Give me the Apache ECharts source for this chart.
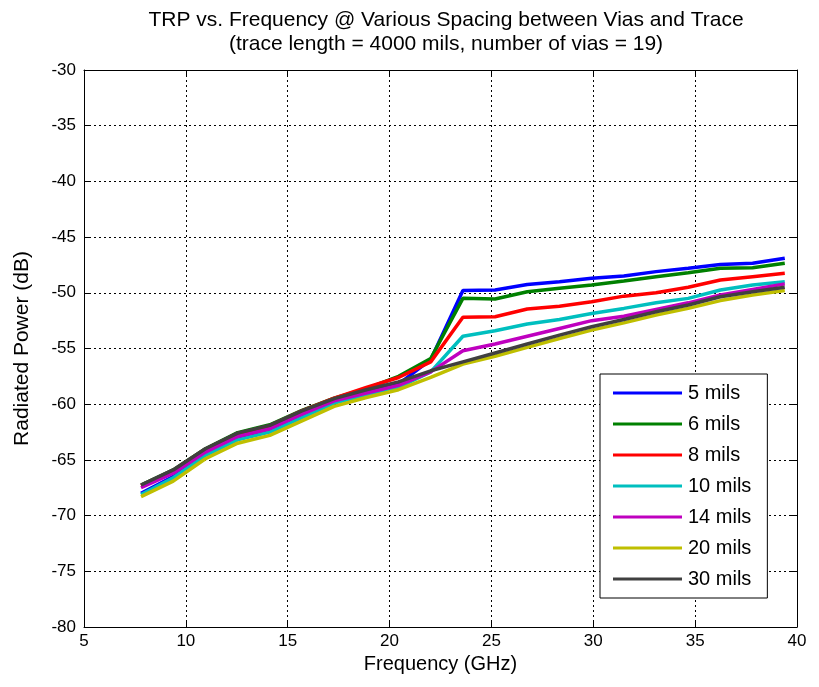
<!DOCTYPE html>
<html>
<head>
<meta charset="utf-8">
<script src="https://cdn.jsdelivr.net/npm/echarts@6/dist/echarts.min.js"></script>
<style>
  html, body { margin: 0; padding: 0; background: #fff; }
  #chart { width: 819px; height: 687px; }
</style>
</head>
<body>
<div id="chart"></div>
<script>
// 频率 (GHz)
var freqs = [7.8, 9.38, 10.96, 12.54, 14.12, 15.7, 17.28, 18.86, 20.44, 22.02, 23.6,
             25.18, 26.76, 28.34, 29.92, 31.5, 33.08, 34.66, 36.24, 37.82, 39.4];

var names = ['5 mils', '6 mils', '8 mils', '10 mils', '14 mils', '20 mils', '30 mils'];
var colors = ['#0000ff', '#008000', '#ff0000', '#00bfbf', '#bf00bf', '#bfbf00', '#404040'];

var mils5  = [-68.0, -66.5, -64.5, -63.1, -62.4, -61.1, -59.8, -59.0, -58.2, -56.0, -49.8,
              -49.75, -49.25, -49.0, -48.7, -48.5, -48.1, -47.8, -47.45, -47.35, -46.9];
var mils6  = [-67.25, -65.9, -64.0, -62.55, -61.85, -60.55, -59.45, -58.6, -57.5, -55.9, -50.5,
              -50.55, -49.9, -49.6, -49.3, -48.95, -48.55, -48.2, -47.8, -47.75, -47.35];
var mils8  = [-67.3, -65.95, -64.05, -62.65, -61.95, -60.6, -59.45, -58.5, -57.6, -56.2, -52.2,
              -52.15, -51.45, -51.2, -50.8, -50.3, -50.0, -49.5, -48.85, -48.55, -48.25];
var mils10 = [-68.1, -66.6, -64.6, -63.2, -62.5, -61.2, -59.9, -59.2, -58.5, -57.1, -53.9,
              -53.4, -52.8, -52.4, -51.85, -51.4, -50.9, -50.5, -49.75, -49.3, -49.0];
var mils14 = [-67.5, -66.2, -64.3, -62.9, -62.2, -60.9, -59.7, -59.0, -58.3, -57.1, -55.2,
              -54.6, -53.9, -53.2, -52.5, -52.1, -51.5, -50.9, -50.2, -49.7, -49.2];
var mils20 = [-68.3, -66.9, -64.9, -63.5, -62.8, -61.5, -60.2, -59.4, -58.7, -57.6, -56.4,
              -55.7, -54.9, -54.1, -53.35, -52.7, -52.0, -51.4, -50.7, -50.2, -49.8];
var mils30 = [-67.25, -65.9, -64.0, -62.6, -61.9, -60.6, -59.5, -58.7, -58.0, -57.0, -56.2,
              -55.4, -54.6, -53.8, -53.05, -52.4, -51.7, -51.1, -50.35, -49.9, -49.5];

var allData = [mils5, mils6, mils8, mils10, mils14, mils20, mils30];

var font = 'Arial, "Liberation Sans", sans-serif';

var series = [];
for (var i = 0; i < names.length; i++) {
    var pts = [];
    for (var j = 0; j < freqs.length; j++) {
        pts.push([freqs[j], allData[i][j]]);
    }
    series.push({
        name: names[i],
        type: 'line',
        symbol: 'none',
        data: pts,
        lineStyle: { color: colors[i], width: 3.5 },
        itemStyle: { color: colors[i] },
        z: 10 + i
    });
}

var chart = echarts.init(document.getElementById('chart'));
var option = {
    animation: false,
    backgroundColor: '#fff',
    title: {
        text: 'TRP vs. Frequency @ Various Spacing between Vias and Trace\n(trace length = 4000 mils, number of vias = 19)',
        left: 441,
        top: 3,
        textAlign: 'center',
        textStyle: { fontFamily: font, fontSize: 21, fontWeight: 'normal', color: '#000', lineHeight: 24 }
    },
    legend: {
        data: names,
        orient: 'vertical',
        left: 600,
        top: 374,
        padding: [9, 16, 9, 13],
        icon: 'rect',
        itemWidth: 69,
        itemHeight: 3,
        itemGap: 11,
        backgroundColor: '#fff',
        borderColor: '#000',
        borderWidth: 1,
        borderRadius: 0,
        textStyle: { fontFamily: font, fontSize: 20, color: '#000', padding: [0, 0, 0, 1] }
    },
    grid: { left: 84, right: 22, top: 70, bottom: 60, containLabel: false },
    xAxis: [{
        type: 'value',
        min: 5, max: 40, interval: 5,
        name: 'Frequency (GHz)',
        nameLocation: 'middle',
        nameGap: 26,
        nameTextStyle: { fontFamily: font, fontSize: 20, color: '#000' },
        axisLine: { onZero: false, lineStyle: { color: '#000', width: 1 } },
        axisTick: { inside: true, length: 6, lineStyle: { color: '#000' } },
        axisLabel: { fontFamily: font, fontSize: 17, color: '#000', margin: 6 },
        splitLine: { show: true, lineStyle: { color: '#000', type: [2, 3], width: 1 } }
    }, {
        type: 'value',
        position: 'top',
        min: 5, max: 40, interval: 5,
        axisLine: { onZero: false, lineStyle: { color: '#000', width: 1 } },
        axisTick: { inside: true, length: 6, lineStyle: { color: '#000' } },
        axisLabel: { show: false },
        splitLine: { show: false }
    }],
    yAxis: [{
        type: 'value',
        min: -80, max: -30, interval: 5,
        name: 'Radiated Power (dB)',
        nameLocation: 'middle',
        nameGap: 51,
        nameTextStyle: { fontFamily: font, fontSize: 21, color: '#000' },
        axisLine: { show: true, onZero: false, lineStyle: { color: '#000', width: 1 } },
        axisTick: { show: true, inside: true, length: 6, lineStyle: { color: '#000' } },
        axisLabel: { fontFamily: font, fontSize: 17, color: '#000', margin: 8 },
        splitLine: { show: true, lineStyle: { color: '#000', type: [2, 3], width: 1 } }
    }, {
        type: 'value',
        position: 'right',
        min: -80, max: -30, interval: 5,
        axisLine: { show: true, onZero: false, lineStyle: { color: '#000', width: 1 } },
        axisTick: { show: true, inside: true, length: 6, lineStyle: { color: '#000' } },
        axisLabel: { show: false },
        splitLine: { show: false }
    }],
    series: series
};
chart.setOption(option);
</script>
</body>
</html>
